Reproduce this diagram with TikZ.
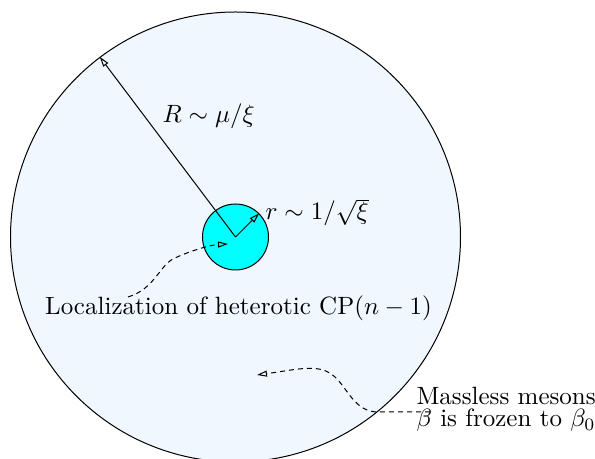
\documentclass[tikz,border=0pt]{standalone}
\usepackage{amsmath}
\usepackage{amssymb}
\usepackage{tikz}
\usetikzlibrary{arrows.meta}
\definecolor{diskblue}{RGB}{240,247,254}
\definecolor{corecyan}{RGB}{0,255,255}

\begin{document}
\begin{tikzpicture}[
        x=0.4pt, y=0.4pt,
        bigdisk/.style={draw, circle, fill=diskblue, minimum size=180pt, inner sep=0pt},
        coredisk/.style={draw, circle, fill=corecyan, minimum size=26.4pt, inner sep=0pt},
        lbl/.style={inner sep=0pt, anchor=base west},
        arr/.style={-{Triangle[open, length=4pt, width=2.4pt]}},
        darr/.style={arr, dash pattern=on 2pt off 1.6pt},
    ]
        \useasboundingbox (0,0) rectangle (595,459);

        % --- Disks ---
        \node[bigdisk] (vortex) at (235.5,222) {};
        \node[coredisk] (core) at (235.5,222) {};

        % --- Radii ---
        \draw[arr] (core.center) -- (vortex.127.3);
        \draw[arr] (core.center) -- (core.45);
        \node[lbl] (bigR) at (162,336) {$R\sim\mu/\xi$};
        \node[lbl] (smallr) at (265,239) {$r\sim 1/\sqrt{\xi}$};

        % --- Labels ---
        \node[inner sep=0pt, anchor=base] (loc) at (238.5,144) {Localization of heterotic CP$(n-1)$};
        \node[lbl, align=left] (meson) at (416,32) {Massless mesons\\[-3pt]$\beta$ is frozen to $\beta_0$};

        % --- Pointers ---
        \coordinate (locend) at (228,215);
        \coordinate (locstart) at (128,162);
        \coordinate (mesend) at (257,84);
        \coordinate (messtart) at (430,47);
        \draw[darr] (locstart) .. controls (155,170) and (160,195) .. (175,201)
            .. controls (190,208) and (210,214) .. (locend);
        \draw[darr] (messtart) -- (378,47) .. controls (355,47) and (348,70) .. (335,82)
            .. controls (320,96) and (300,90) .. (mesend);
    \end{tikzpicture}
\end{document}
